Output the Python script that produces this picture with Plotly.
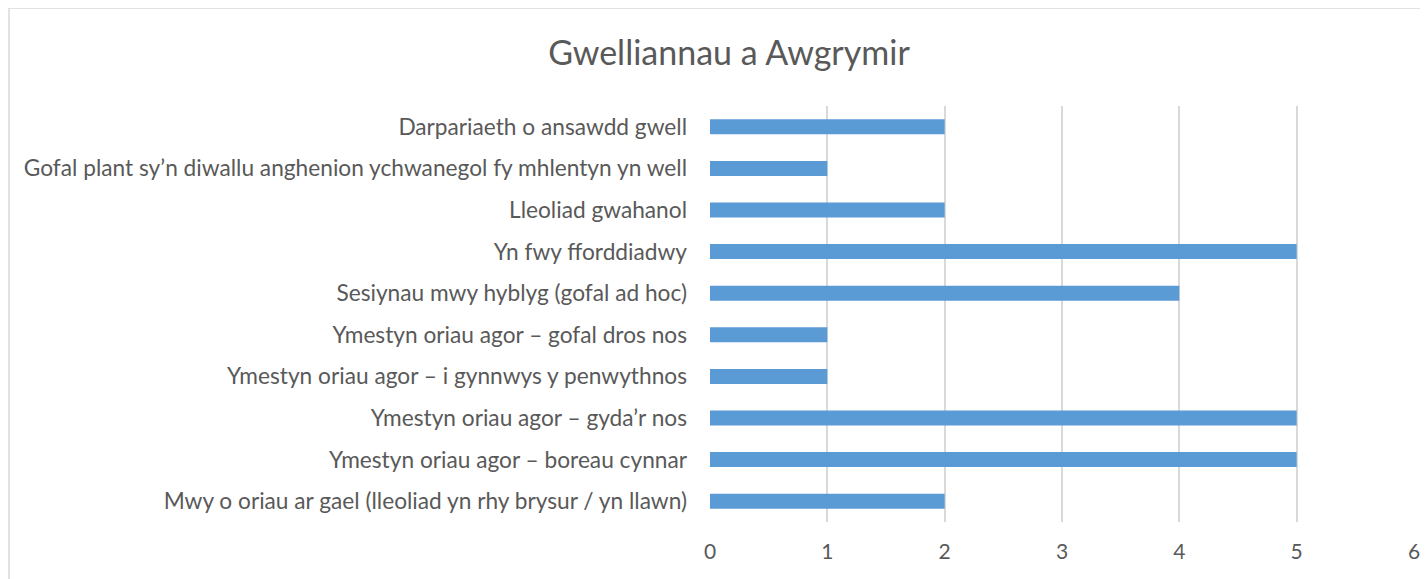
import plotly.graph_objects as go

categories = [
    "Darpariaeth o ansawdd gwell",
    "Gofal plant sy’n diwallu anghenion ychwanegol fy mhlentyn yn well",
    "Lleoliad gwahanol",
    "Yn fwy fforddiadwy",
    "Sesiynau mwy hyblyg (gofal ad hoc)",
    "Ymestyn oriau agor – gofal dros nos",
    "Ymestyn oriau agor – i gynnwys y penwythnos",
    "Ymestyn oriau agor – gyda’r nos",
    "Ymestyn oriau agor – boreau cynnar",
    "Mwy o oriau ar gael (lleoliad yn rhy brysur / yn llawn)",
]
values = [2, 1, 2, 5, 4, 1, 1, 5, 5, 2]
x_ticks = [0, 1, 2, 3, 4, 5, 6]
title_text = "Gwelliannau a Awgrymir"

FONT = "Lato"
GREY = "#595959"

fig = go.Figure(go.Bar(
    x=values, y=categories, orientation="h",
    marker=dict(color="#5b9bd5", line=dict(width=0)),
))

fig.update_layout(
    width=1428, height=579,
    paper_bgcolor="white", plot_bgcolor="white",
    margin=dict(l=702, r=22, t=98, b=65),
    bargap=0.64,
    showlegend=False,
    title=dict(text=title_text, x=721/1428, xanchor="center", y=1-45/579, yanchor="middle",
               font=dict(family=FONT, size=34, color=GREY)),
    font=dict(family=FONT, color=GREY, size=22.7),
)
fig.update_xaxes(
    range=[0, 6], tickvals=x_ticks, showgrid=True, gridcolor="#d9d9d9", gridwidth=1.5,
    zeroline=False, showline=False, ticks="", tickfont=dict(size=21, color=GREY),
    ticklabelstandoff=15, fixedrange=True,
)
fig.update_yaxes(
    autorange="reversed", showgrid=False, showline=False, ticks="",
    tickfont=dict(size=22.7, color=GREY), ticklabelstandoff=22,
)
fig.add_shape(type="rect", xref="paper", yref="paper",
              x0=-701/704, x1=1.05, y0=-0.3, y1=1 + 98/416,
              line=dict(color="#d9d9d9", width=1.5), fillcolor="rgba(0,0,0,0)", layer="below")

fig.write_html("out.html")
